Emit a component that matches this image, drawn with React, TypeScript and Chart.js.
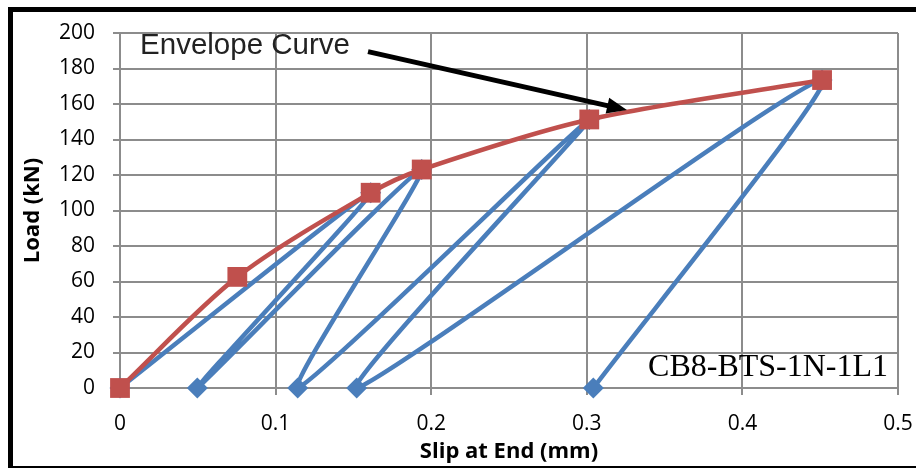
import React, { useEffect, useRef } from "react";
import { Chart, registerables } from "chart.js";

Chart.register(...registerables);

// Envelope curve (red squares)
const envelopeSlip = [0, 0.0754, 0.1611, 0.1939, 0.3016, 0.4512];
const envelopeLoad = [0, 62.6, 110.0, 123.1, 151.3, 173.5];

// Cyclic loading path (blue diamonds)
const cyclicSlip = [0, 0.1611, 0.0497, 0.1939, 0.1142, 0.3016, 0.1521, 0.4512, 0.3042];
const cyclicLoad = [0, 110.0, 0, 123.1, 0, 151.3, 0, 173.5, 0];

// Axis ticks
const xTicks = [0, 0.1, 0.2, 0.3, 0.4, 0.5];
const xTickLabels = ["0", "0.1", "0.2", "0.3", "0.4", "0.5"];
const yTicks = [0, 20, 40, 60, 80, 100, 120, 140, 160, 180, 200];
const yTickLabels = ["0", "20", "40", "60", "80", "100", "120", "140", "160", "180", "200"];

// Texts
const xTitle = "Slip at End (mm)";
const yTitle = "Load (kN)";
const envelopeLabel = "Envelope Curve";
const specimenLabel = "CB8-BTS-1N-1L1";

// Annotation anchors in data space [slip, load]
const envelopeLabelAt = [0.0129, 187.9];
const arrowFrom = [0.1594, 189.5];
const arrowTo = [0.3258, 156.6];
const specimenLabelAt = [0.4936, 6.6];

const RED = "#C0504D";
const BLUE = "#4A7EBB";
const GRID = "#8C8C8C";

const annotationPlugin = {
  id: "annotations",
  beforeDraw(chart: any) {
    const { ctx, width, height } = chart;
    ctx.save();
    ctx.fillStyle = "#ffffff";
    ctx.fillRect(0, 0, width, height);
    ctx.restore();
  },
  afterDraw(chart: any) {
    const { ctx } = chart;
    const x = chart.scales.x;
    const y = chart.scales.y;
    ctx.save();

    // Envelope label
    ctx.font = '29.5px "Liberation Sans"';
    ctx.fillStyle = "#222222";
    ctx.textAlign = "left";
    ctx.textBaseline = "alphabetic";
    ctx.fillText(envelopeLabel, x.getPixelForValue(envelopeLabelAt[0]), y.getPixelForValue(envelopeLabelAt[1]));

    // Arrow
    const x0 = x.getPixelForValue(arrowFrom[0]);
    const y0 = y.getPixelForValue(arrowFrom[1]);
    const x1 = x.getPixelForValue(arrowTo[0]);
    const y1 = y.getPixelForValue(arrowTo[1]);
    const ang = Math.atan2(y1 - y0, x1 - x0);
    const headLen = 20;
    const headHalf = 8;
    const bx = x1 - Math.cos(ang) * headLen;
    const by = y1 - Math.sin(ang) * headLen;
    ctx.strokeStyle = "#000";
    ctx.lineWidth = 5;
    ctx.lineCap = "butt";
    ctx.beginPath();
    ctx.moveTo(x0, y0);
    ctx.lineTo(bx + Math.cos(ang) * 2, by + Math.sin(ang) * 2);
    ctx.stroke();
    ctx.fillStyle = "#000";
    ctx.beginPath();
    ctx.moveTo(x1, y1);
    ctx.lineTo(bx - Math.sin(ang) * headHalf, by + Math.cos(ang) * headHalf);
    ctx.lineTo(bx + Math.sin(ang) * headHalf, by - Math.cos(ang) * headHalf);
    ctx.closePath();
    ctx.fill();

    // Specimen label
    ctx.font = '32px "Liberation Serif"';
    ctx.fillStyle = "#000";
    ctx.textAlign = "right";
    ctx.fillText(specimenLabel, x.getPixelForValue(specimenLabelAt[0]), y.getPixelForValue(specimenLabelAt[1]));

    // Frame
    ctx.fillStyle = "#000";
    ctx.fillRect(8, 7, 908, 5);
    ctx.fillRect(8, 7, 5, 461);
    ctx.fillRect(8, 466, 908, 2);
    ctx.restore();
  },
};

export default function App() {
  const canvasRef = useRef<HTMLCanvasElement | null>(null);

  useEffect(() => {
    if (!canvasRef.current) return;
    const envelopeData = envelopeSlip.map((s, i) => ({ x: s, y: envelopeLoad[i] }));
    const cyclicData = cyclicSlip.map((s, i) => ({ x: s, y: cyclicLoad[i] }));

    const chart = new Chart(canvasRef.current, {
      type: "scatter",
      data: {
        datasets: [
          {
            label: "Envelope",
            data: envelopeData,
            showLine: true,
            clip: false,
            borderColor: RED,
            backgroundColor: RED,
            borderWidth: 4.5,
            tension: 0.3,
            pointStyle: "rect",
            pointRadius: 14,
            pointBorderWidth: 0,
            pointBackgroundColor: RED,
          },
          {
            label: "Cyclic",
            data: cyclicData,
            showLine: true,
            clip: false,
            borderColor: BLUE,
            backgroundColor: BLUE,
            borderWidth: 4.5,
            tension: 0.18,
            pointStyle: "rectRot",
            pointRadius: 10.5,
            pointBorderWidth: 0,
            pointBackgroundColor: BLUE,
          },
        ],
      },
      options: {
        responsive: false,
        animation: false,
        events: [],
        layout: { padding: { left: 0, top: 33, right: 18, bottom: 0 } },
        plugins: {
          legend: { display: false },
          tooltip: { enabled: false },
        },
        scales: {
          x: {
            type: "linear",
            min: 0,
            max: 0.5,
            afterBuildTicks: (scale: any) => {
              scale.ticks = xTicks.map((v) => ({ value: v }));
            },
            afterFit: (scale: any) => {
              scale.height = 81;
              scale.paddingLeft = 0;
              scale.paddingRight = 0;
            },
            ticks: {
              callback: (v: any) => {
                const i = xTicks.findIndex((t) => Math.abs(t - Number(v)) < 1e-9);
                return i >= 0 ? xTickLabels[i] : "";
              },
              font: { family: '"Open Sans"', size: 21 },
              color: "#000",
              padding: 16,
              maxRotation: 0,
              autoSkip: false,
            },
            grid: { color: GRID, lineWidth: 2, tickLength: 7, drawTicks: true },
            border: { display: false },
            title: {
              display: true,
              text: xTitle,
              font: { family: '"Open Sans"', size: 22, weight: "bold" },
              color: "#000",
              padding: { top: 0, bottom: 4 },
            },
          },
          y: {
            type: "linear",
            min: 0,
            max: 200,
            afterBuildTicks: (scale: any) => {
              scale.ticks = yTicks.map((v) => ({ value: v }));
            },
            afterFit: (scale: any) => {
              scale.width = 120;
              scale.paddingTop = 0;
              scale.paddingBottom = 0;
            },
            ticks: {
              callback: (v: any) => {
                const i = yTicks.indexOf(Number(v));
                return i >= 0 ? yTickLabels[i] : "";
              },
              font: { family: '"Open Sans"', size: 21 },
              color: "#000",
              padding: 18,
              autoSkip: false,
            },
            grid: { color: GRID, lineWidth: 2, tickLength: 7, drawTicks: true },
            border: { display: false },
            title: {
              display: true,
              text: yTitle,
              font: { family: '"Open Sans"', size: 22, weight: "bold" },
              color: "#000",
              padding: { top: 20, bottom: 0 },
            },
          },
        },
      },
      plugins: [annotationPlugin],
    });

    return () => chart.destroy();
  }, []);

  return (
    <div style={{ position: "fixed", left: 0, top: 0, width: 916, height: 469, background: "#fff" }}>
      <canvas ref={canvasRef} width={916} height={469} style={{ display: "block", width: 916, height: 469 }} />
    </div>
  );
}
